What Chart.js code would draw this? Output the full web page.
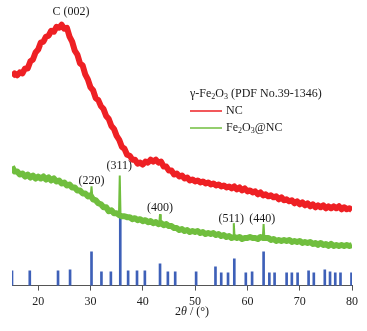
<!DOCTYPE html>
<html>
<head>
<meta charset="utf-8">
<script src="https://cdn.jsdelivr.net/npm/chart.js@4"></script>
<style>
html,body{margin:0;padding:0;background:#fff;}
canvas{display:block;}
</style>
</head>
<body>
<canvas id="c" width="367" height="331"></canvas>
<script>
// 2θ grid (degrees)
const twoTheta = [15,15.5,16,16.5,17,17.5,18,18.5,19,19.5,20,20.5,21,21.5,22,22.5,23,23.5,24,24.5,25,25.5,26,26.5,27,27.5,28,28.5,29,29.5,30,30.5,31,31.5,32,32.5,33,33.5,34,34.5,35,35.5,36,36.5,37,37.5,38,38.5,39,39.5,40,40.5,41,41.5,42,42.5,43,43.5,44,44.5,45,45.5,46,46.5,47,47.5,48,48.5,49,49.5,50,50.5,51,51.5,52,52.5,53,53.5,54,54.5,55,55.5,56,56.5,57,57.5,58,58.5,59,59.5,60,60.5,61,61.5,62,62.5,63,63.5,64,64.5,65,65.5,66,66.5,67,67.5,68,68.5,69,69.5,70,70.5,71,71.5,72,72.5,73,73.5,74,74.5,75,75.5,76,76.5,77,77.5,78,78.5,79,79.5,80];

// NC intensity (a.u., offset)
const ncValues = [211,214,212,215,214,219,219,226,228,235,238,245,246,251,252,257,256,261,260,263,259,260,251,246,237,233,224,222,213,208,200,197,189,187,181,178,171,168,161,158,151,147,140,138,132,131,127,127,123,124,122,125,124,127,125,127,124,125,120,120,116,116,112,113,110,111,108,109,106,107,105,106,104,105,103,104,102,103,101,102,100,101,99,100,98,100,97,99,96,98,95,96,94,95,92,94,91,92,90,91,89,90,87,89,86,87,85,86,83,85,82,84,81,83,80,82,79,81,79,81,78,80,78,80,78,80,77,79,77,78,76];

// Fe2O3@NC intensity (a.u., offset) on the grid
const feValues = [120,115,115,112,113,110,112,109,111,108,110,108,110,107,109,106,108,105,106,103,104,101,102,99,99,96,96,93,93,90,91,87,86,83,82,79,79,75,76,73,73,71,70,70,69,69,67,68,66,67,65,66,64,65,63,64,62,63,61,62,60,60,58,58,56,57,55,56,54,55,54,55,53,54,52,53,52,53,51,52,50,51,49,50,48,49,48,49,47,48,48,49,48,48,47,49,48,48,48,46,47,45,46,45,46,45,46,44,45,44,45,43,44,43,44,42,43,41,43,41,42,40,42,40,41,40,41,40,41,40,41];
// Fe2O3@NC sharp reflections: position, top, local background
const fePeakPos = [30.2,35.6,43.3,57.4,63.1];
const fePeakTop = [100,111,72,63,62];
const fePeakBase = [90,71,63,49,48];

// γ-Fe2O3 PDF No.39-1346 reference lines
const pdfPos = [15.0,18.4,23.8,26.1,30.2,32.1,33.9,35.7,37.2,38.9,40.4,43.3,44.8,46.2,50.2,53.9,55.0,56.3,57.5,59.7,60.9,63.1,64.2,65.2,67.5,68.5,69.6,71.7,72.7,74.8,75.8,76.8,77.8,79.9];
const pdfInt = [15,15,15,16,34,14,14,73,15,15,15,22,14,14,14,19,13,13,27,13,14,34,13,13,13,13,13,15,13,16,14,13,13,13];

// x ticks
const xTicks = [20,30,40,50,60,70,80];

// peak labels
const peakText = ['C (002)','(220)','(311)','(400)','(511)','(440)'];
const peakX = [26.3,30.2,35.5,43.3,56.9,62.85];
const peakY = [276,106,121,78,67,67];

const RED = 'rgb(238,32,36)';
const GREEN = 'rgb(112,190,62)';
const BLUE = 'rgb(62,96,184)';
const SERIF = '"Liberation Serif", "DejaVu Serif", serif';

function pairs(xs, ys){ return xs.map((x,i)=>({x:x,y:ys[i]})); }

function drawRich(ctx, x, y, parts){
  let cx = x;
  parts.forEach(p=>{
    if (p[1]==='s'){ ctx.font = '8px '+SERIF; ctx.fillText(p[0], cx, y+3); }
    else if (p[1]==='i'){ ctx.font = 'italic 12px '+SERIF; ctx.fillText(p[0], cx, y); }
    else { ctx.font = '12px '+SERIF; ctx.fillText(p[0], cx, y); }
    cx += ctx.measureText(p[0]).width;
  });
  return cx - x;
}
function richWidth(ctx, parts){
  let w=0;
  parts.forEach(p=>{
    ctx.font = (p[1]==='s' ? '8px ' : (p[1]==='i' ? 'italic 12px ' : '12px ')) + SERIF;
    w += ctx.measureText(p[0]).width;
  });
  return w;
}

const overlay = {
  id:'overlay',
  afterDatasetsDraw(chart){
    const ctx = chart.ctx, xs = chart.scales.x, ys = chart.scales.y;
    ctx.save();
    ctx.fillStyle = '#1a1a1a';
    ctx.textBaseline = 'middle';
    ctx.textAlign = 'center';
    ctx.font = '12px '+SERIF;
    peakText.forEach((t,i)=>{
      ctx.fillText(t, xs.getPixelForValue(peakX[i]), ys.getPixelForValue(peakY[i]));
    });
    ctx.textAlign = 'left';
    drawRich(ctx, 190, 94, [['γ-Fe','n'],['2','s'],['O','n'],['3','s'],[' (PDF No.39-1346)','n']]);
    ctx.lineWidth = 1.5;
    ctx.strokeStyle = RED;
    ctx.beginPath(); ctx.moveTo(190,111); ctx.lineTo(222,111); ctx.stroke();
    ctx.strokeStyle = GREEN;
    ctx.beginPath(); ctx.moveTo(190,128); ctx.lineTo(222,128); ctx.stroke();
    ctx.fillStyle = '#1a1a1a';
    drawRich(ctx, 226, 111, [['NC','n']]);
    drawRich(ctx, 226, 128, [['Fe','n'],['2','s'],['O','n'],['3','s'],['@NC','n']]);
    const tparts = [['2','n'],['θ','i'],[' / (°)','n']];
    const w = richWidth(ctx, tparts);
    drawRich(ctx, 192 - w/2, 312, tparts);
    ctx.restore();
  }
};

// thin spikes for the sharp reflections, separated by gaps
const spikeData = [];
fePeakPos.forEach((p,i)=>{
  spikeData.push({x:p-0.15, y:fePeakBase[i]});
  spikeData.push({x:p, y:fePeakTop[i]});
  spikeData.push({x:p+0.15, y:fePeakBase[i]});
  spikeData.push({x:p+0.2, y:null});
});

new Chart(document.getElementById('c'), {
  data: {
    datasets: [
      { type:'line', label:'Fe2O3@NC peaks', data: spikeData, borderColor: GREEN, borderWidth: 2, pointRadius: 0, tension: 0, spanGaps: false, order: 0 },
      { type:'line', label:'Fe2O3@NC', data: pairs(twoTheta, feValues), borderColor: GREEN, borderWidth: 6, borderJoinStyle:'round', pointRadius: 0, tension: 0, order: 1 },
      { type:'line', label:'NC', data: pairs(twoTheta, ncValues), borderColor: RED, borderWidth: 6, borderJoinStyle:'round', pointRadius: 0, tension: 0, order: 2 },
      { type:'bar', label:'PDF', data: pairs(pdfPos, pdfInt), backgroundColor: BLUE, barThickness: 2, order: 3 }
    ]
  },
  options: {
    responsive: false,
    animation: false,
    events: [],
    layout: { padding: { left: 12, right: 15, top: 0, bottom: 18 } },
    plugins: { legend: { display:false }, tooltip: { enabled:false } },
    scales: {
      x: {
        type: 'linear', min: 15, max: 80, offset: false,
        afterBuildTicks(scale){ scale.ticks = xTicks.map(v=>({value:v})); },
        grid: { display: true, offset: false, drawOnChartArea: false, drawTicks: true, tickLength: 5, color: '#555' },
        border: { display: true, color: '#555', width: 1 },
        ticks: { color: '#222', font: { family: SERIF, size: 12 }, padding: 4, maxRotation: 0, autoSkip: false }
      },
      y: { type:'linear', min: 0, max: 288, display: false }
    }
  },
  plugins: [overlay]
});
</script>
</body>
</html>
